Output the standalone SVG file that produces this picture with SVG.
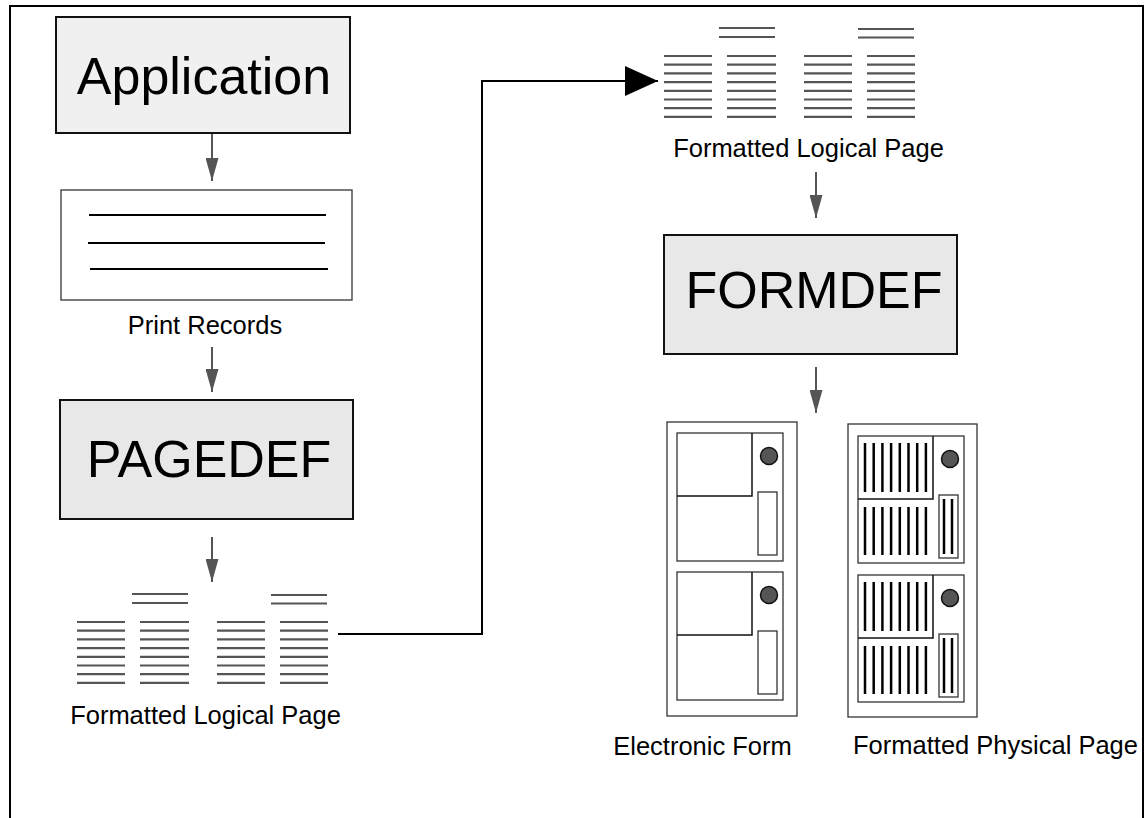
<svg xmlns="http://www.w3.org/2000/svg" xmlns:xlink="http://www.w3.org/1999/xlink" width="1146" height="818" viewBox="0 0 1146 818">
<style>
.big{font-family:"Liberation Sans",Arial,sans-serif;font-size:52px;fill:#000;text-anchor:middle}
.lbl{font-family:"Liberation Sans",Arial,sans-serif;font-size:25.5px;fill:#000;text-anchor:middle}
.box{stroke:#111;stroke-width:2}
.sl{stroke:#555;stroke-width:2.2}
.pr{stroke:#000;stroke-width:2}
.pan{fill:#fff;stroke:#333;stroke-width:1.3}
.div{stroke:#111;stroke-width:1.5;fill:none}
.bar{stroke:#000;stroke-width:2.5}
.dot{fill:#555;stroke:#111;stroke-width:1.5}
.arr{stroke:#555;stroke-width:2;fill:none}
</style>
<defs>
<marker id="dn" viewBox="0 0 23 13" refX="23" refY="6.5" markerWidth="23" markerHeight="13" markerUnits="userSpaceOnUse" orient="auto">
<path d="M0,0 L23,6.5 L0,13 z" fill="#555"/>
</marker>
<marker id="big" viewBox="0 0 33 30" refX="33" refY="15" markerWidth="33" markerHeight="30" markerUnits="userSpaceOnUse" orient="auto">
<path d="M0,0 L33,15 L0,30 z" fill="#000"/>
</marker>
<g id="stack">
<g class="sl">
<line x1="0" y1="28" x2="48" y2="28"/><line x1="0" y1="36.7" x2="48" y2="36.7"/><line x1="0" y1="45.4" x2="48" y2="45.4"/><line x1="0" y1="54.1" x2="48" y2="54.1"/><line x1="0" y1="62.8" x2="48" y2="62.8"/><line x1="0" y1="71.5" x2="48" y2="71.5"/><line x1="0" y1="80.2" x2="48" y2="80.2"/><line x1="0" y1="88.9" x2="48" y2="88.9"/>
<line x1="55" y1="0" x2="111" y2="0"/><line x1="55" y1="9" x2="111" y2="9"/>
<line x1="63" y1="28" x2="112" y2="28"/><line x1="63" y1="36.7" x2="112" y2="36.7"/><line x1="63" y1="45.4" x2="112" y2="45.4"/><line x1="63" y1="54.1" x2="112" y2="54.1"/><line x1="63" y1="62.8" x2="112" y2="62.8"/><line x1="63" y1="71.5" x2="112" y2="71.5"/><line x1="63" y1="80.2" x2="112" y2="80.2"/><line x1="63" y1="88.9" x2="112" y2="88.9"/>
<line x1="140" y1="28" x2="188" y2="28"/><line x1="140" y1="36.7" x2="188" y2="36.7"/><line x1="140" y1="45.4" x2="188" y2="45.4"/><line x1="140" y1="54.1" x2="188" y2="54.1"/><line x1="140" y1="62.8" x2="188" y2="62.8"/><line x1="140" y1="71.5" x2="188" y2="71.5"/><line x1="140" y1="80.2" x2="188" y2="80.2"/><line x1="140" y1="88.9" x2="188" y2="88.9"/>
<line x1="194" y1="1" x2="250" y2="1"/><line x1="194" y1="9.5" x2="250" y2="9.5"/>
<line x1="203" y1="28" x2="251" y2="28"/><line x1="203" y1="36.7" x2="251" y2="36.7"/><line x1="203" y1="45.4" x2="251" y2="45.4"/><line x1="203" y1="54.1" x2="251" y2="54.1"/><line x1="203" y1="62.8" x2="251" y2="62.8"/><line x1="203" y1="71.5" x2="251" y2="71.5"/><line x1="203" y1="80.2" x2="251" y2="80.2"/><line x1="203" y1="88.9" x2="251" y2="88.9"/>
</g>
</g>
<g id="epanel">
<rect class="pan" x="0" y="0" width="106" height="128"/>
<path class="div" d="M75,0 V63 H0"/>
<circle class="dot" cx="92" cy="23" r="8.5"/>
<rect class="pan" x="81" y="59" width="19" height="63"/>
</g>
<g id="ppanel">
<rect class="pan" x="0" y="0" width="106" height="127"/>
<path class="div" d="M75,0 V63 H0"/>
<circle class="dot" cx="92" cy="23" r="8.5"/>
<rect class="pan" x="81" y="59" width="19" height="63"/>
<g class="bar">
<line x1="86" y1="63" x2="86" y2="118"/><line x1="94" y1="63" x2="94" y2="118"/>
<line x1="7" y1="7" x2="7" y2="56"/><line x1="15.7" y1="7" x2="15.7" y2="56"/><line x1="24.4" y1="7" x2="24.4" y2="56"/><line x1="33.1" y1="7" x2="33.1" y2="56"/><line x1="41.8" y1="7" x2="41.8" y2="56"/><line x1="50.5" y1="7" x2="50.5" y2="56"/><line x1="59.2" y1="7" x2="59.2" y2="56"/><line x1="67.9" y1="7" x2="67.9" y2="56"/>
<line x1="7" y1="71" x2="7" y2="119"/><line x1="15.7" y1="71" x2="15.7" y2="119"/><line x1="24.4" y1="71" x2="24.4" y2="119"/><line x1="33.1" y1="71" x2="33.1" y2="119"/><line x1="41.8" y1="71" x2="41.8" y2="119"/><line x1="50.5" y1="71" x2="50.5" y2="119"/><line x1="59.2" y1="71" x2="59.2" y2="119"/><line x1="67.9" y1="71" x2="67.9" y2="119"/>
</g>
</g>
</defs>
<rect width="1146" height="818" fill="#fff"/>
<path id="frame" d="M10,818 V6 H1143 V818" fill="none" stroke="#000" stroke-width="2"/>

<g id="application">
<rect class="box" x="56" y="17" width="294" height="116" fill="#f0f0f0"/>
<text class="big" x="204" y="94">Application</text>
</g>
<g id="print-records">
<rect x="61" y="190" width="291" height="110" fill="#fff" stroke="#333" stroke-width="1.3"/>
<line class="pr" x1="89" y1="215" x2="326" y2="215"/>
<line class="pr" x1="88" y1="243" x2="325" y2="243"/>
<line class="pr" x1="90" y1="269" x2="328" y2="269"/>
<text class="lbl" x="205" y="334">Print Records</text>
</g>
<g id="pagedef">
<rect class="box" x="60" y="400" width="293" height="119" fill="#e8e8e8"/>
<text class="big" x="209" y="477">PAGEDEF</text>
</g>
<g id="flp-bottom">
<use xlink:href="#stack" href="#stack" transform="translate(77,594)"/>
<text class="lbl" x="205.5" y="724">Formatted Logical Page</text>
</g>
<g id="flp-top">
<use xlink:href="#stack" href="#stack" transform="translate(664,28)"/>
<text class="lbl" x="808.5" y="157">Formatted Logical Page</text>
</g>
<g id="formdef">
<rect class="box" x="664" y="235" width="293" height="119" fill="#e8e8e8"/>
<text class="big" x="814" y="308">FORMDEF</text>
</g>
<g id="electronic-form">
<rect x="667" y="422" width="130" height="294" fill="#fff" stroke="#333" stroke-width="1.3"/>
<use xlink:href="#epanel" href="#epanel" transform="translate(677,433)"/>
<use xlink:href="#epanel" href="#epanel" transform="translate(677,572)"/>
<text class="lbl" x="702.5" y="755">Electronic Form</text>
</g>
<g id="physical-page">
<rect x="848" y="424" width="129" height="293" fill="#fff" stroke="#333" stroke-width="1.3"/>
<use xlink:href="#ppanel" href="#ppanel" transform="translate(858,436)"/>
<use xlink:href="#ppanel" href="#ppanel" transform="translate(858,575)"/>
<text class="lbl" x="995.5" y="754">Formatted Physical Page</text>
</g>

<g id="connectors">
<line class="arr" x1="212" y1="134" x2="212" y2="181" marker-end="url(#dn)"/>
<line class="arr" x1="212" y1="347" x2="212" y2="392" marker-end="url(#dn)"/>
<line class="arr" x1="212" y1="537" x2="212" y2="582" marker-end="url(#dn)"/>
<line class="arr" x1="816" y1="172" x2="816" y2="218" marker-end="url(#dn)"/>
<line class="arr" x1="816" y1="367" x2="816" y2="413" marker-end="url(#dn)"/>
<path d="M338,634 H482 V81 H658" fill="none" stroke="#000" stroke-width="2" marker-end="url(#big)"/>
</g>
</svg>
